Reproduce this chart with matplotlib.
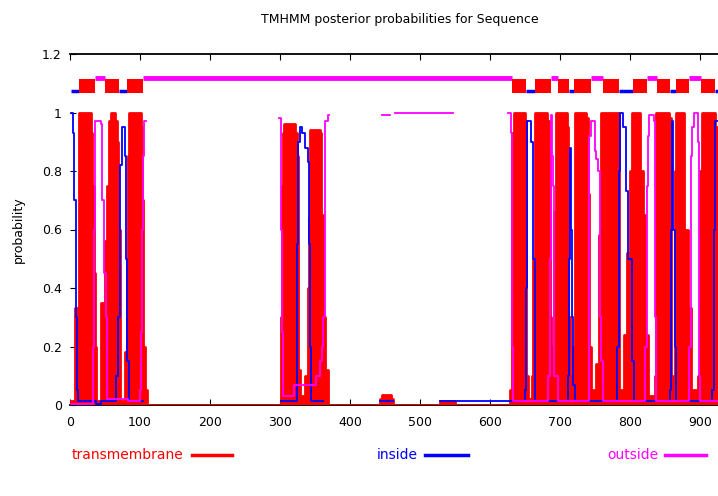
import matplotlib
matplotlib.use("Agg")
import matplotlib.pyplot as plt
from matplotlib.lines import Line2D
import numpy as np

nan = np.nan

# posterior probability for transmembrane (step breakpoints: position, value)
tm_x = [1, 7, 13, 30, 32, 34, 36, 37, 45, 50, 53, 56, 58, 65, 67, 69, 71, 72,
        79, 81, 83, 85, 101, 103, 105, 107, 110,
        302, 303, 304, 306, 322, 324, 326, 328, 336, 340, 342, 343, 357, 359,
        362, 364, 369, 443, 446, 458, 461, 529, 550,
        629, 631, 632, 634, 650, 652, 654, 660, 662, 664, 682, 684, 686, 688,
        690, 692, 694, 710, 712, 714, 717, 719, 721, 737, 740, 742, 745,
        752, 756, 759, 784, 785, 790, 792, 796, 800, 803, 815, 819, 822, 826,
        836, 837, 856, 859, 862, 864, 866, 878, 883, 887, 898, 900, 903, 922, 926]
tm_y = [0.015, 0.33, 1.0, 0.93, 0.75, 0.45, 0.2, 0.015, 0.35, 0.56, 0.75, 0.97, 1.0, 0.97, 0.9, 0.6, 0.25, 0.015,
        0.18, 0.5, 0.85, 1.0, 0.95, 0.7, 0.2, 0.05, 0.0,
        0.3, 0.75, 0.93, 0.96, 0.93, 0.85, 0.12, 0.03, 0.1, 0.4, 0.64, 0.94, 0.93, 0.65,
        0.3, 0.12, 0.0, 0.02, 0.035, 0.02, 0.0, 0.012, 0.0,
        0.05, 0.3, 0.93, 1.0, 0.97, 0.1, 0.02, 0.1, 0.5, 1.0, 0.97, 0.85, 0.3, 0.05,
        0.2, 0.66, 1.0, 0.95, 0.3, 0.05, 0.1, 0.2, 1.0, 0.98, 0.72, 0.2, 0.05,
        0.14, 0.58, 1.0, 0.98, 0.05, 0.05, 0.24, 0.52, 0.8, 1.0, 0.8, 0.65, 0.24, 0.03,
        0.1, 1.0, 0.98, 0.1, 0.07, 0.8, 1.0, 0.6, 0.33, 0.05, 0.1, 0.8, 1.0, 0.95, 0.95]

# posterior probability for inside
in_x = [1, 4, 6, 8, 10, 12, 37, 45, 66, 69, 71, 72, 74, 78, 80, 82, 84, 104,
        302, 324, 325, 326, 328, 331, 336, 340, 342, 343, 344, 362,
        443, 461, 529, 650, 651, 653, 659, 662, 664, 665,
        711, 713, 714, 716, 718, 719, 721, 782, 784, 786, 790, 794, 798, 803, 806,
        857, 859, 860, 862, 864, 866, 918, 920, 922, 926]
in_y = [1.0, 0.93, 0.7, 0.3, 0.05, 0.012, 0.005, 0.012, 0.1, 0.3, 0.7, 0.82, 0.95, 0.85, 0.5, 0.15, 0.012, nan,
        0.012, 0.12, 0.55, 0.9, 0.95, 0.93, 0.88, 0.83, 0.55, 0.2, 0.012, nan,
        0.015, nan, 0.012, 0.05, 0.4, 0.97, 0.9, 0.5, 0.1, 0.012,
        0.1, 0.5, 0.88, 0.6, 0.3, 0.07, 0.012, 0.2, 0.8, 1.0, 0.95, 0.73, 0.5, 0.15, 0.012,
        0.05, 0.6, 0.97, 0.6, 0.2, 0.012, 0.05, 0.6, 0.97, 0.97]

# posterior probability for outside
out_x = [1, 33, 35, 36, 44, 46, 49, 51, 53, 83, 100, 102, 103, 104, 106, 108,
         299, 302, 303, 304, 320, 352, 357, 360, 362, 364, 365, 368, 370,
         446, 457, 464, 547, 626, 630, 631, 632, 633,
         683, 686, 687, 689, 690, 691, 692, 697,
         741, 742, 745, 750, 752, 755, 757, 759, 762,
         822, 824, 826, 828, 835, 836, 837,
         885, 887, 889, 892, 897, 899, 900, 926]
out_y = [0.005, 0.2, 0.6, 0.97, 0.96, 0.7, 0.45, 0.3, 0.02, 0.012, 0.05, 0.25, 0.6, 0.85, 0.97, nan,
         0.98, 0.6, 0.25, 0.03, 0.07, 0.1, 0.15, 0.2, 0.3, 0.75, 0.97, 0.99, nan,
         0.99, nan, 1.0, nan, 1.0, 0.93, 0.84, 0.2, 0.012,
         0.1, 0.5, 0.99, 0.85, 0.75, 0.3, 0.1, 0.012,
         0.8, 0.92, 0.97, 0.87, 0.84, 0.8, 0.3, 0.15, 0.012,
         0.2, 0.75, 0.92, 0.99, 0.97, 0.3, 0.012,
         0.2, 0.85, 0.95, 1.0, 0.9, 0.1, 0.012, 0.012]

# predicted topology (top band)
helix_start = [13, 50, 81, 632, 664, 697, 720, 762, 805, 839, 866, 901]
helix_end = [36, 70, 104, 652, 687, 713, 744, 784, 824, 858, 884, 921]
inside_start = [1, 70, 652, 713, 784, 858, 921]
inside_end = [13, 81, 664, 720, 805, 866, 926]
outside_start = [36, 104, 687, 744, 824, 884]
outside_end = [50, 632, 697, 762, 839, 901]

seq_len = 926
RED, BLUE, PINK = '#ff0000', '#0000ff', '#ff00ff'

fig = plt.figure(figsize=(7.18, 4.96), dpi=100)
ax = fig.add_axes([70 / 718, 1 - 405 / 496, 648 / 718, 351 / 496])

# posterior curves (transmembrane drawn like gnuplot impulses -> filled)
ax.fill_between(tm_x, tm_y, step='post', color=RED, lw=0, zorder=3)
ax.step(tm_x, tm_y, where='post', color=RED, lw=2.0, zorder=3)
ax.step(in_x, in_y, where='post', color=BLUE, lw=1.3, zorder=4)
ax.step(out_x, out_y, where='post', color=PINK, lw=1.3, zorder=4)

# topology band
ax.hlines([1.072] * len(inside_start), inside_start, inside_end, color=BLUE, lw=2.5, zorder=4)
ax.hlines([1.118] * len(outside_start), outside_start, outside_end, color=PINK, lw=3.5, zorder=4)
ax.broken_barh([(s, e - s) for s, e in zip(helix_start, helix_end)], (1.068, 0.047),
               facecolor=RED, edgecolor='none', zorder=5)

ax.set_xlim(0, seq_len)
ax.set_ylim(0, 1.2)
ax.set_xticks(range(0, 1000, 100))
ax.set_yticks([0, 0.2, 0.4, 0.6, 0.8, 1.0, 1.2])
ax.set_yticklabels(['0', '0.2', '0.4', '0.6', '0.8', '1', '1.2'])
ax.tick_params(axis='x', direction='in', top=True, length=4, labelsize=9, pad=8)
ax.tick_params(axis='y', direction='in', length=4, labelsize=9, pad=6)
ax.spines['left'].set_visible(False)
ax.spines['right'].set_visible(False)
ax.spines['top'].set_linewidth(1.3)
ax.spines['bottom'].set_linewidth(1.3)
ax.set_ylabel('probability', fontsize=9, labelpad=12)

fig.text(400 / 718, 1 - 20 / 496, 'TMHMM posterior probabilities for Sequence',
         ha='center', va='center', fontsize=9)

# legend along the bottom
legend_items = [('transmembrane', RED, 72, 192, 232),
                ('inside', BLUE, 377, 425, 468),
                ('outside', PINK, 607, 665, 706)]
ly = 1 - 455 / 496
for label, col, tx, l0, l1 in legend_items:
    fig.text(tx / 718, ly, label, color=col, fontsize=10, ha='left', va='center')
    fig.add_artist(Line2D([l0 / 718, l1 / 718], [ly, ly], color=col, lw=2.5,
                          transform=fig.transFigure))

plt.savefig('out.png', dpi=100)
